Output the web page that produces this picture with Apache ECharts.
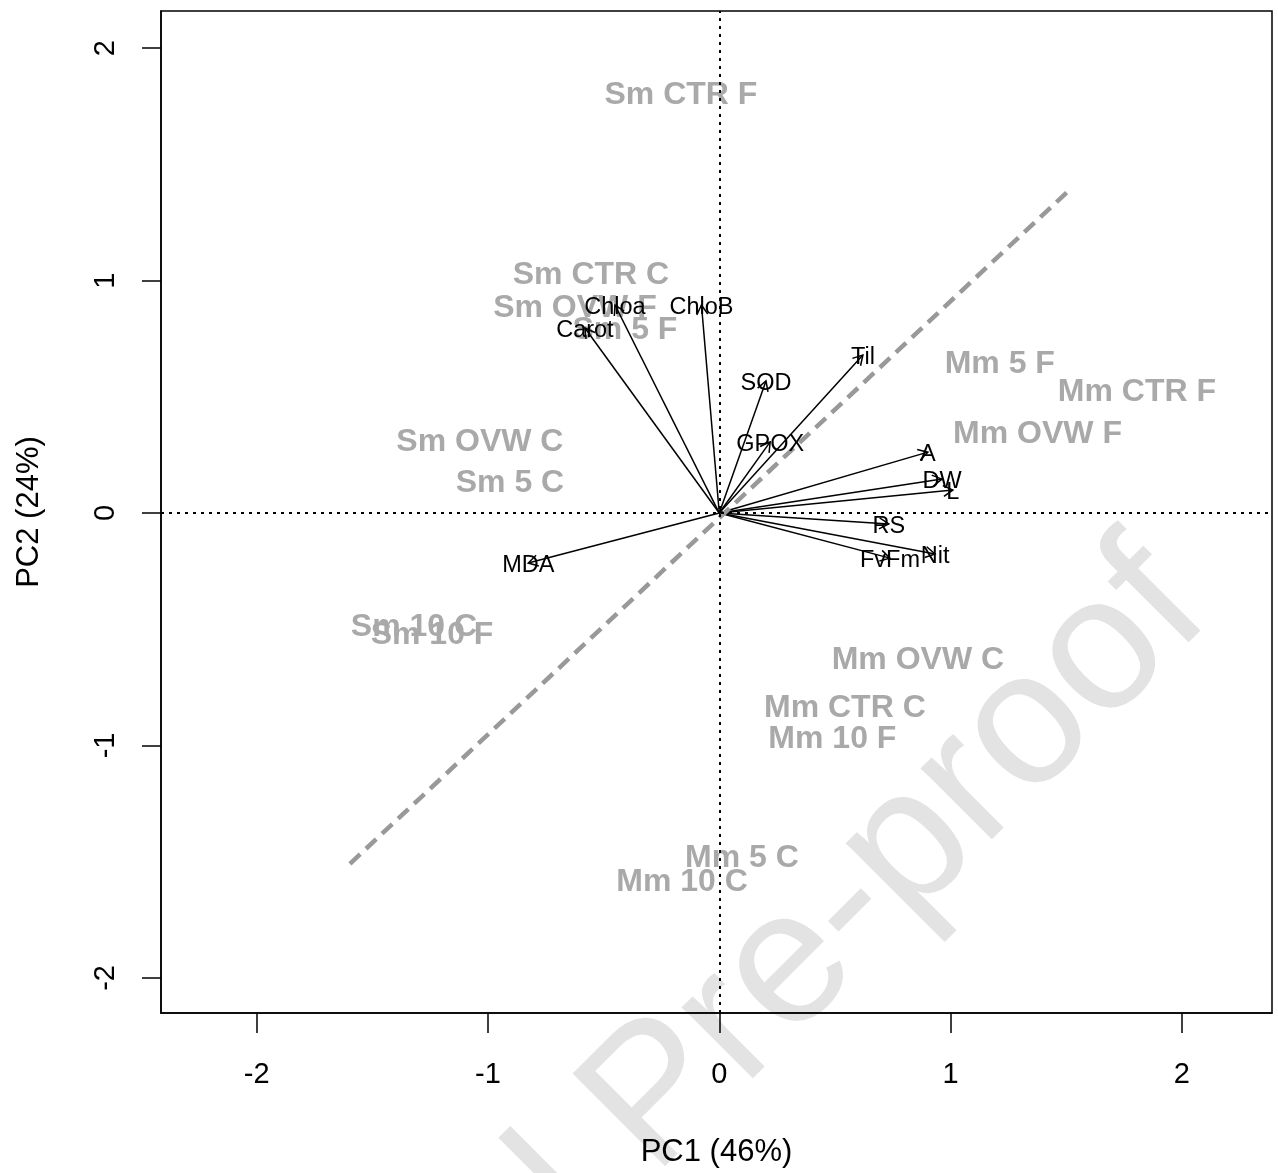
<!DOCTYPE html>
<html>
<head>
<meta charset="utf-8">
<script src="https://cdn.jsdelivr.net/npm/echarts@6/dist/echarts.min.js"></script>
<style>
  html, body { margin: 0; padding: 0; background: #fff; }
  #chart { width: 1278px; height: 1173px; }
</style>
</head>
<body>
<div id="chart"></div>
<script>
// ---- data ----
const xTicks = [-2, -1, 0, 1, 2];
const yTicks = [-2, -1, 0, 1, 2];

const sampleNames = ['Sm CTR F', 'Sm CTR C', 'Sm OVW F', 'Sm 5 F', 'Sm OVW C', 'Sm 5 C', 'Sm 10 C', 'Sm 10 F',
  'Mm 5 F', 'Mm CTR F', 'Mm OVW F', 'Mm OVW C', 'Mm CTR C', 'Mm 10 F', 'Mm 5 C', 'Mm 10 C'];
const sampleX = [-0.166, -0.555, -0.624, -0.408, -1.035, -0.905, -1.320, -1.242,
  1.213, 1.806, 1.376, 0.859, 0.543, 0.489, 0.098, -0.161];
const sampleY = [1.807, 1.033, 0.891, 0.796, 0.314, 0.138, -0.482, -0.516,
  0.650, 0.529, 0.349, -0.624, -0.830, -0.964, -1.476, -1.579];

const varNames = ['Chloa', 'ChloB', 'Carot', 'SOD', 'GPOX', 'Til', 'A', 'DW', 'L', 'RS', 'FvFm', 'Nit', 'MDA'];
const varX = [-0.451, -0.077, -0.581, 0.202, 0.220, 0.621, 0.902, 0.963, 1.010, 0.733, 0.738, 0.933, -0.826];
const varY = [0.895, 0.895, 0.796, 0.568, 0.306, 0.680, 0.262, 0.146, 0.099, -0.047, -0.194, -0.176, -0.215];

const diagX = [-1.597, 1.502];
const diagY = [-1.509, 1.379];

const xName = 'PC1 (46%)';
const yName = 'PC2 (24%)';
const watermark = 'Journal Pre-proof';

// ---- chart ----
const FONT = '"Liberation Sans", Arial, Helvetica, sans-serif';
const chart = echarts.init(document.getElementById('chart'), null, { renderer: 'canvas' });

function arrowItem(params, api) {
  const o = api.coord([0, 0]);
  const t = api.coord([api.value(0), api.value(1)]);
  const ang = Math.atan2(t[1] - o[1], t[0] - o[0]);
  const L = 11, a = Math.PI / 6;
  const p1 = [t[0] - L * Math.cos(ang - a), t[1] - L * Math.sin(ang - a)];
  const p2 = [t[0] - L * Math.cos(ang + a), t[1] - L * Math.sin(ang + a)];
  return {
    type: 'group',
    children: [
      { type: 'line', shape: { x1: o[0], y1: o[1], x2: t[0], y2: t[1] },
        style: { stroke: '#000', lineWidth: 1.5 } },
      { type: 'polyline', shape: { points: [p1, t, p2] },
        style: { stroke: '#000', fill: null, lineWidth: 1.5 } }
    ]
  };
}

function textItem(names, font, color, dy) {
  return function (params, api) {
    const c = api.coord([api.value(0), api.value(1)]);
    return {
      type: 'text', x: c[0], y: c[1] + dy,
      style: { text: names[params.dataIndex], font: font, fill: color, align: 'center', verticalAlign: 'middle' }
    };
  };
}

const option = {
  backgroundColor: '#fff',
  animation: false,
  graphic: [{
    type: 'text', x: 139, y: 1618, rotation: Math.PI / 4, z: -10, silent: true,
    style: { text: watermark, font: '190px ' + FONT, fill: '#e3e3e3', align: 'left', verticalAlign: 'middle' }
  }],
  grid: { left: 161, top: 11, right: 6, bottom: 160, show: true, borderColor: '#000', borderWidth: 1.5, backgroundColor: 'transparent' },
  xAxis: {
    type: 'value', min: -2.414, max: 2.39,
    axisLine: { show: true, onZero: false, lineStyle: { color: '#000', width: 1.5 } },
    axisTick: { show: true, length: 20, customValues: xTicks, lineStyle: { color: '#000', width: 1.5 } },
    axisLabel: { customValues: xTicks, fontSize: 29, fontFamily: FONT, color: '#000', margin: 47 },
    splitLine: { show: false },
    name: xName, nameLocation: 'middle', nameGap: 124,
    nameTextStyle: { fontSize: 31, fontFamily: FONT, color: '#000' }
  },
  yAxis: {
    type: 'value', min: -2.151, max: 2.16,
    axisLine: { show: true, onZero: false, lineStyle: { color: '#000', width: 1.5 } },
    axisTick: { show: true, length: 19, customValues: yTicks, lineStyle: { color: '#000', width: 1.5 } },
    axisLabel: { customValues: yTicks, fontSize: 29, fontFamily: FONT, color: '#000', margin: 41, rotate: 90 },
    splitLine: { show: false },
    name: yName, nameLocation: 'middle', nameGap: 116,
    nameTextStyle: { fontSize: 31, fontFamily: FONT, color: '#000' }
  },
  series: [
    {
      type: 'line', data: [[0, 0]], symbol: 'none', silent: true, z: 1,
      markLine: {
        silent: true, symbol: ['none', 'none'], label: { show: false },
        lineStyle: { color: '#000', width: 2, type: [3, 5] },
        data: [{ xAxis: 0 }, { yAxis: 0 }]
      }
    },
    {
      type: 'custom', coordinateSystem: 'cartesian2d', z: 2,
      data: sampleX.map((x, i) => [x, sampleY[i]]),
      renderItem: textItem(sampleNames, 'bold 32px ' + FONT, '#a9a9a9', 2.5)
    },
    {
      type: 'custom', coordinateSystem: 'cartesian2d', z: 3,
      data: varX.map((x, i) => [x, varY[i]]),
      renderItem: arrowItem
    },
    {
      type: 'line', z: 4, symbol: 'none', silent: true,
      data: diagX.map((x, i) => [x, diagY[i]]),
      lineStyle: { color: '#999999', width: 4.5, type: [14, 8] }
    },
    {
      type: 'custom', coordinateSystem: 'cartesian2d', z: 5,
      data: varX.map((x, i) => [x, varY[i]]),
      renderItem: textItem(varNames, '23.5px ' + FONT, '#000', 2.5)
    }
  ]
};
chart.setOption(option);
</script>
</body>
</html>
